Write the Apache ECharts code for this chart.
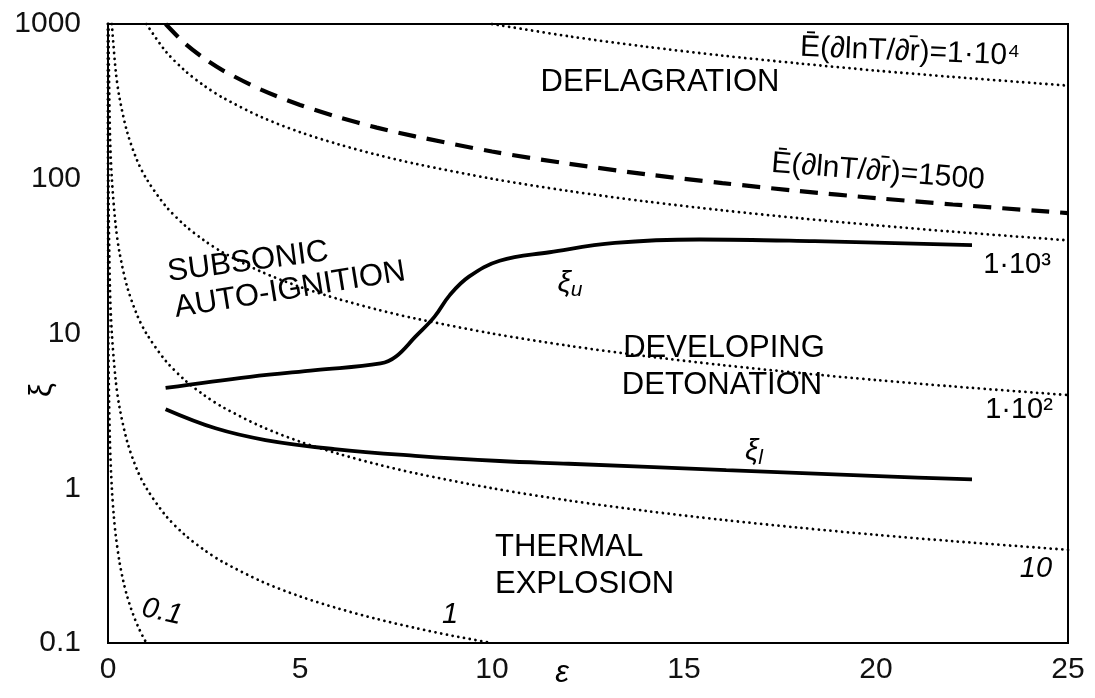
<!DOCTYPE html>
<html>
<head>
<meta charset="utf-8">
<script src="https://cdn.jsdelivr.net/npm/echarts@6/dist/echarts.min.js"></script>
<style>html,body{margin:0;padding:0;background:#fff;}#c{width:1095px;height:698px;}</style>
</head>
<body>
<div id="c"></div>
<script>
// ---- data ----
const xTicks = [0, 5, 10, 15, 20, 25];
const yTickLabels = ['0.1', '1', '10', '100', '1000'];

// dotted iso-lines  E(dlnT/dr) = const   [eps, xi]
const iso01 = [[0.0001,1000],[0.001,100],[0.01,10],[0.02,5],[0.05,2],[0.1,1],[0.15,0.667],[0.2,0.5],[0.3,0.333],[0.4,0.25],[0.5,0.2],[0.6,0.167],[0.7,0.143],[0.8,0.125],[0.9,0.111],[1.0,0.1]];
const iso1 = [[0.001,1000],[0.01,100],[0.05,20],[0.1,10],[0.2,5],[0.3,3.33],[0.5,2],[0.75,1.33],[1,1],[1.5,0.667],[2,0.5],[2.5,0.4],[3,0.333],[4,0.25],[5,0.2],[6,0.167],[7,0.143],[8,0.125],[9,0.111],[10,0.1]];
const iso10 = [[0.01,1000],[0.05,200],[0.1,100],[0.2,50],[0.3,33.3],[0.5,20],[0.75,13.3],[1,10],[1.5,6.67],[2,5],[2.5,4],[3,3.33],[4,2.5],[5,2],[6,1.67],[7,1.43],[8,1.25],[10,1],[12,0.833],[14,0.714],[16,0.625],[18,0.556],[20,0.5],[22,0.455],[25,0.4]];
const iso100 = [[0.1,1000],[0.2,500],[0.3,333],[0.5,200],[0.75,133],[1,100],[1.5,66.7],[2,50],[2.5,40],[3,33.3],[4,25],[5,20],[6,16.7],[7,14.3],[8,12.5],[10,10],[12,8.33],[14,7.14],[16,6.25],[18,5.56],[20,5],[22,4.55],[25,4]];
const iso1000 = [[1,1000],[1.5,667],[2,500],[2.5,400],[3,333],[4,250],[5,200],[6,167],[7,143],[8,125],[10,100],[12,83.3],[14,71.4],[16,62.5],[18,55.6],[20,50],[22,45.5],[25,40]];
const iso10000 = [[10,1000],[12,833],[14,714],[16,625],[18,556],[20,500],[22,455],[25,400]];
// dashed line E(dlnT/dr) = 1500
const iso1500 = [[1.5,1000],[2,750],[2.5,600],[3,500],[4,375],[5,300],[6,250],[7,214],[8,188],[10,150],[12,125],[14,107],[16,93.8],[18,83.3],[20,75],[22,68.2],[25,60]];
// solid boundaries
const xiU = [[1.5,4.45],[3.7,5.25],[5.4,5.8],[7.1,6.4],[7.5,7.1],[8.0,9.5],[8.5,12.8],[8.9,17.7],[9.4,23.3],[10.2,29.5],[11.5,33.5],[13.2,38.5],[15.4,40.5],[18.4,39.5],[22.5,37.3]];
const xiL = [[1.5,3.24],[2.8,2.44],[4.1,2.05],[5.9,1.79],[8.0,1.62],[10.2,1.50],[12.0,1.44],[16.1,1.31],[20.4,1.19],[22.5,1.14]];

const FONT = '"Liberation Sans", Arial, sans-serif';
const dotted = {color:'#000', width:2.8, type:[0.01,5.8], cap:'round'};

function dotSeries(d){ return {type:'line', data:d, showSymbol:false, smooth:0.3, lineStyle:dotted, silent:true, z:2}; }

const chart = echarts.init(document.getElementById('c'), null, {renderer:'canvas'});

function txt(x, y, text, size, opts) {
  opts = opts || {};
  return {
    type:'text', x:x, y:y, rotation: opts.rot || 0, z:100,
    style:{text:text, fill:'#000', font:(opts.italic?'italic ':'') + size + 'px ' + FONT,
      align: opts.align || 'center', verticalAlign:'middle', lineHeight: opts.lh || size*1.15, rich: opts.rich}
  };
}

const option = {
  backgroundColor:'#fff',
  animation:false,
  grid:{left:108, right:27, top:24, bottom:55, show:true, borderColor:'#000', borderWidth:2, backgroundColor:'transparent',
    containLabel:false, outerBoundsMode:'none'},
  xAxis:{type:'value', min:0, max:25, interval:5,
    axisLine:{show:true, lineStyle:{color:'#000', width:2}}, axisTick:{show:false}, splitLine:{show:false},
    axisLabel:{fontFamily:FONT, fontSize:30, color:'#111', margin:12,
      formatter:function(v){ return xTicks.indexOf(v) >= 0 ? String(v) : ''; }}},
  yAxis:{type:'log', logBase:10, min:0.1, max:1000,
    axisLine:{show:true, lineStyle:{color:'#000', width:2}}, axisTick:{show:false}, splitLine:{show:false},
    axisLabel:{fontFamily:FONT, fontSize:30, color:'#111', margin:27,
      formatter:function(v){ const i = Math.round(Math.log10(v)) + 1; return yTickLabels[i] || ''; }}},
  series:[
    dotSeries(iso01), dotSeries(iso1), dotSeries(iso10), dotSeries(iso100), dotSeries(iso1000), dotSeries(iso10000),
    {type:'line', data:iso1500, showSymbol:false, smooth:0.3, silent:true, z:3,
      lineStyle:{color:'#000', width:4.2, type:[18,11]}},
    {type:'line', data:xiU, showSymbol:false, smooth:0.4, silent:true, z:4,
      lineStyle:{color:'#000', width:3.8}},
    {type:'line', data:xiL, showSymbol:false, smooth:0.4, silent:true, z:4,
      lineStyle:{color:'#000', width:3.8}}
  ],
  graphic:[
    txt(562, 673, 'ε', 31, {italic:true}),
    txt(42, 390, 'ξ', 31, {rot:Math.PI/2}),
    txt(660, 82, 'DEFLAGRATION', 31),
    txt(910, 52, 'Ē(∂lnT/∂r̄)=1·10⁴', 30, {rot:-0.04}),
    txt(878, 172, 'Ē(∂lnT/∂r̄)=1500', 30, {rot:-0.08}),
    txt(248, 262, 'SUBSONIC', 31, {rot:0.13}),
    txt(290, 290, 'AUTO-IGNITION', 31, {rot:0.16}),
    txt(724, 348, 'DEVELOPING', 31),
    txt(722, 385, 'DETONATION', 31),
    txt(495, 547, 'THERMAL', 31, {align:'left'}),
    txt(495, 584, 'EXPLOSION', 31, {align:'left'}),
    txt(1017, 265, '1·10³', 29),
    txt(1019, 410, '1·10²', 29),
    txt(1036, 569, '10', 29, {italic:true}),
    txt(450, 615, '1', 29, {italic:true}),
    txt(162, 612, '0.1', 29, {italic:true, rot:-0.22}),
    txt(570, 284, '{a|ξ}{b|u}', 30, {rich:{a:{font:'italic 30px ' + FONT, fill:'#000'}, b:{font:'italic 21px ' + FONT, fill:'#000', padding:[12,0,0,0]}}}),
    txt(754, 452, '{a|ξ}{b|l}', 30, {rich:{a:{font:'italic 30px ' + FONT, fill:'#000'}, b:{font:'italic 21px ' + FONT, fill:'#000', padding:[12,0,0,0]}}})
  ]
};
chart.setOption(option);
</script>
</body>
</html>
